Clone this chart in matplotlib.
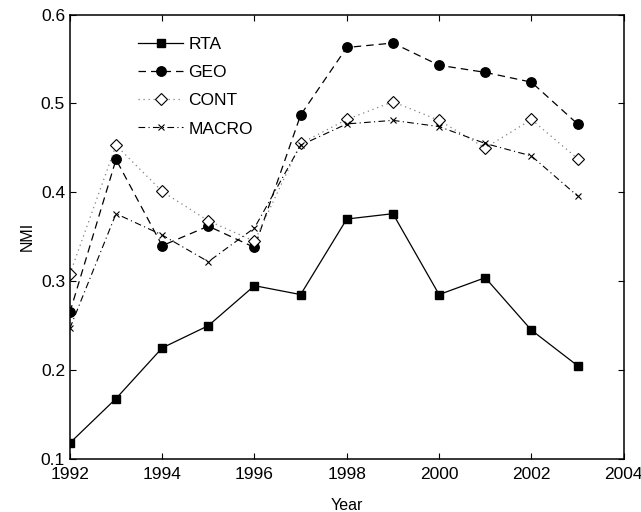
import matplotlib
matplotlib.use("Agg")
import matplotlib.pyplot as plt

plt.rcParams['font.family'] = ['Liberation Sans', 'DejaVu Sans']

years = [1992, 1993, 1994, 1995, 1996, 1997, 1998, 1999, 2000, 2001, 2002, 2003]
rta = [0.118, 0.168, 0.225, 0.250, 0.295, 0.285, 0.370, 0.376, 0.285, 0.304, 0.245, 0.205]
geo = [0.265, 0.437, 0.340, 0.362, 0.338, 0.487, 0.563, 0.568, 0.543, 0.535, 0.524, 0.477]
cont = [0.308, 0.453, 0.401, 0.368, 0.345, 0.455, 0.482, 0.502, 0.481, 0.450, 0.482, 0.438]
macro = [0.247, 0.376, 0.352, 0.322, 0.360, 0.453, 0.477, 0.481, 0.474, 0.455, 0.441, 0.396]

fig = plt.figure(figsize=(6.41, 5.12), dpi=100)
ax = fig.add_axes([0.109, 0.1035, 0.864, 0.868])

ax.plot(years, rta, color='black', lw=0.9, marker='s', ms=5.5, label='RTA')
ax.plot(years, geo, color='black', lw=0.9, ls=(0, (6, 4)), marker='o', ms=6.8, label='GEO')
ax.plot(years, cont, color='0.5', lw=0.9, ls=(0, (1, 3)), marker='D', ms=6,
        mfc='white', mec='black', mew=0.8, label='CONT')
ax.plot(years, macro, color='black', lw=0.8, ls=(0, (6, 3, 1, 3)), marker='x', ms=4,
        mew=0.8, label='MACRO')

ax.set_xlim(1992, 2004)
ax.set_ylim(0.1, 0.6)
ax.set_xticks([1992, 1994, 1996, 1998, 2000, 2002, 2004])
ax.set_yticks([0.1, 0.2, 0.3, 0.4, 0.5, 0.6])
ax.set_yticklabels(['0.1', '0.2', '0.3', '0.4', '0.5', '0.6'])
ax.tick_params(direction='in', top=True, right=True, labelsize=12.5, length=4, width=0.8)
ax.tick_params(axis='x', pad=6)
ax.set_xlabel('Year', fontsize=11.5, labelpad=11)
ax.set_ylabel('NMI', fontsize=11.5)
for s in ax.spines.values():
    s.set_linewidth(1.1)

ax.legend(loc='upper left', bbox_to_anchor=(0.095, 0.985), frameon=False, fontsize=12.5,
          handlelength=2.6, handletextpad=0.3, labelspacing=0.75)

fig.savefig('out.png', dpi=100)
